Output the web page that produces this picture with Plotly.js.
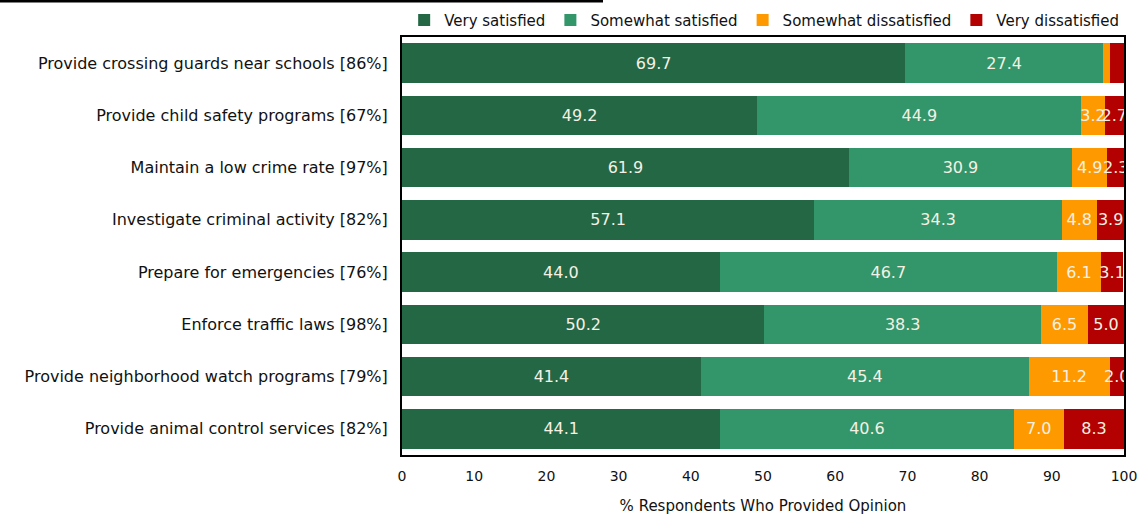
<!DOCTYPE html>
<html>
<head>
<meta charset="utf-8">
<script src="https://cdn.plot.ly/plotly-3.0.1.min.js"></script>
<style>
  html, body { margin: 0; padding: 0; background: #ffffff; }
  #chart { width: 1141px; height: 515px; }
</style>
</head>
<body>
<div id="chart"></div>
<script>
// Service items, with the share of respondents who gave an opinion
const categories = [
  "Provide crossing guards near schools [86%]",
  "Provide child safety programs [67%]",
  "Maintain a low crime rate [97%]",
  "Investigate criminal activity [82%]",
  "Prepare for emergencies [76%]",
  "Enforce traffic laws [98%]",
  "Provide neighborhood watch programs [79%]",
  "Provide animal control services [82%]"
];

// Percent of respondents in each satisfaction level
const verySatisfied        = [69.7, 49.2, 61.9, 57.1, 44.0, 50.2, 41.4, 44.1];
const somewhatSatisfied    = [27.4, 44.9, 30.9, 34.3, 46.7, 38.3, 45.4, 40.6];
const somewhatDissatisfied = [1.0, 3.2, 4.9, 4.8, 6.1, 6.5, 11.2, 7.0];
const veryDissatisfied     = [1.9, 2.7, 2.3, 3.9, 3.1, 5.0, 2.0, 8.3];

const seriesNames = ["Very satisfied", "Somewhat satisfied", "Somewhat dissatisfied", "Very dissatisfied"];
const seriesColors = ["#236745", "#33956A", "#FF9900", "#B30000"];

const xTicks = [0, 10, 20, 30, 40, 50, 60, 70, 80, 90, 100];

// Segments narrower than 2 points carry no value label
const labelFor = v => (v >= 2 ? v.toFixed(1) : "");

const seriesValues = [verySatisfied, somewhatSatisfied, somewhatDissatisfied, veryDissatisfied];

const traces = seriesValues.map((vals, i) => ({
  type: "bar",
  orientation: "h",
  name: seriesNames[i],
  y: categories,
  x: vals,
  text: vals.map(labelFor),
  texttemplate: "%{text}",
  textposition: "inside",
  insidetextanchor: "middle",
  textangle: 0,
  constraintext: "none",
  cliponaxis: true,
  textfont: { family: "DejaVu Sans, sans-serif", size: 16, color: "#F4F1E4" },
  marker: { color: seriesColors[i], line: { width: 0 } },
  hoverinfo: "name+x"
}));

const layout = {
  width: 1141,
  height: 515,
  margin: { l: 402, r: 17, t: 37, b: 60, autoexpand: false },
  paper_bgcolor: "#ffffff",
  plot_bgcolor: "#ffffff",
  barmode: "stack",
  bargap: 0.24,
  font: { family: "DejaVu Sans, sans-serif", size: 15, color: "#111111" },
  showlegend: true,
  legend: {
    orientation: "h",
    x: 0.003,
    xanchor: "left",
    y: 1.04,
    yanchor: "middle",
    font: { family: "DejaVu Sans, sans-serif", size: 15, color: "#111111" },
    itemwidth: 30,
    traceorder: "normal",
    bgcolor: "rgba(0,0,0,0)"
  },
  xaxis: {
    range: [0, 100],
    tickvals: xTicks,
    ticktext: xTicks.map(String),
    showgrid: false,
    zeroline: false,
    showline: true,
    linecolor: "#000000",
    linewidth: 2,
    mirror: true,
    ticks: "",
    ticklabelstandoff: 7,
    tickfont: { family: "DejaVu Sans, sans-serif", size: 14, color: "#111111" },
    title: {
      text: "% Respondents Who Provided Opinion",
      font: { family: "DejaVu Sans, sans-serif", size: 15, color: "#111111" },
      standoff: 20
    },
    fixedrange: true
  },
  yaxis: {
    autorange: "reversed",
    showgrid: false,
    zeroline: false,
    showline: true,
    linecolor: "#000000",
    linewidth: 2,
    mirror: true,
    ticks: "",
    ticklabelstandoff: 9,
    tickfont: { family: "DejaVu Sans, sans-serif", size: 16, color: "#111111" },
    fixedrange: true
  },
  shapes: [
    {
      // rule across the top-left of the page
      type: "line",
      xref: "paper", yref: "paper",
      x0: -402 / 722, x1: (603 - 402) / 722,
      y0: (455 - 1) / 418, y1: (455 - 1) / 418,
      line: { color: "#000000", width: 3 }
    }
  ]
};

Plotly.newPlot("chart", traces, layout, { displayModeBar: false, staticPlot: true });
</script>
</body>
</html>
